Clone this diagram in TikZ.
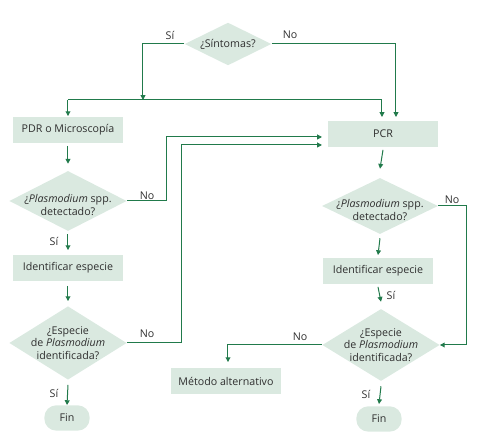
\documentclass[tikz,border=0pt]{standalone}
\usepackage{fontspec}
\setmainfont{Open Sans}
\usetikzlibrary{shapes.geometric,arrows.meta,positioning,calc}
\definecolor{boxfill}{HTML}{DAE9E0}
\definecolor{linecol}{HTML}{217A4B}
\definecolor{txtcol}{HTML}{2F2F2F}
\tikzset{
  every node/.style={font=\fontsize{8}{9.6}\selectfont, text=txtcol},
  stepbox/.style={fill=boxfill, minimum width=82.5pt, minimum height=19pt, inner sep=0pt},
  endbox/.style={fill=boxfill, rounded corners=9pt, minimum width=34pt, minimum height=19pt, inner sep=0pt},
  decide/.style={diamond, fill=boxfill, inner sep=0pt, aspect=2},
  dtext/.style={align=center, inner sep=0pt},
  conn/.style={draw=linecol, line width=0.75pt},
  arr/.style={conn, -{Triangle[length=3.6pt,width=3.6pt]}},
  lbl/.style={inner sep=0pt}
}
\begin{document}
\begin{tikzpicture}[x=0.75pt,y=-0.75pt]
\useasboundingbox (0,0) rectangle (480,448);
% nodes
\node[decide, minimum width=65pt, minimum height=32pt] (sint) at (228,44) {};
\node[dtext] at (sint) {¿Síntomas?};
\node[stepbox] (pdr) at (68,130) {PDR o Microscopía};
\node[stepbox] (pcr) at (383,134) {PCR};
\node[decide, minimum width=88pt, minimum height=45pt] (d1) at (68,201) {};
\node[dtext] at (68,205) {¿\textit{Plasmodium} spp.\\detectado?};
\node[stepbox] (idl) at (68,268) {Identificar especie};
\node[decide, minimum width=88pt, minimum height=55pt] (d3) at (68,343) {};
\node[dtext] at (d3) {¿Especie\\de \textit{Plasmodium}\\identificada?};
\node[endbox] (fin1) at (67,418) {Fin};
\node[decide, minimum width=87pt, minimum height=42pt] (d4) at (380,206) {};
\node[dtext] at (380,210) {¿\textit{Plasmodium} spp.\\detectado?};
\node[stepbox] (idr) at (378,271) {Identificar especie};
\node[decide, minimum width=88pt, minimum height=54pt] (d5) at (381,345) {};
\node[dtext] at (d5) {¿Especie\\de \textit{Plasmodium}\\identificada?};
\node[stepbox] (met) at (226,381) {Método alternativo};
\node[endbox] (fin2) at (379,419) {Fin};
% coordinates
\coordinate (j1) at (143,100);
\coordinate (jl) at (68,100);
\coordinate (pcrA) at (382,117);
\coordinate (pcrB) at (396,117);
\coordinate (pcrL1) at (322,137);
\coordinate (pcrL2) at (322,145);
% connectors
\draw[arr] (sint.west) -| (j1);
\draw[conn] (jl) -- (382,100);
\draw[arr] (jl) -- ($(pdr.north)+(0,-1)$);
\draw[arr] (382,100) -- (pcrA);
\draw[arr] (sint.east) -| (pcrB);
\draw[arr] (pdr.south) ++(0,3) -- ($(d1.north)+(0,-7)$);
\draw[arr] (d1.east) -- (167,201) |- (pcrL1);
\draw[arr] (d1.south) ++(0,3) -- ($(idl.north)+(0,-5)$);
\draw[arr] (idl.south) ++(0,5) -- ($(d3.north)+(0,-5)$);
\draw[arr] (d3.east) -- (182,343) |- (pcrL2);
\draw[arr] (d3.south) ++(0,5) -- (fin1.north);
\draw[arr] (pcr.south) ++(0,3) -- ($(d4.north)+(0,-9)$);
\draw[arr] (d4.south) ++(0,4) -- ($(idr.north)+(0,-3)$);
\draw[arr] (idr.south) ++(0,3) -- ($(d5.north)+(0,-7)$);
\draw[arr] (d4.east) -- (467,206) |- (d5.east);
\draw[arr] (d5.west) -| ($(met.north)+(2,-6)$);
\draw[arr] (d5.south) ++(0,5) -- ($(fin2.north)+(0,-2)$);
% labels
\node[lbl] at (170,35) {Sí};
\node[lbl] at (290,35) {No};
\node[lbl] at (147,196) {No};
\node[lbl] at (54,241) {Sí};
\node[lbl] at (147,334) {No};
\node[lbl] at (54,393) {Sí};
\node[lbl] at (452,200) {No};
\node[lbl] at (391,295) {Sí};
\node[lbl] at (300,337) {No};
\node[lbl] at (366,394) {Sí};
\end{tikzpicture}
\end{document}
